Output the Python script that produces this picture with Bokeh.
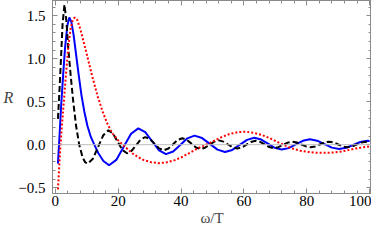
from bokeh.plotting import figure
from bokeh.models import (Range1d, LinearAxis, Span, SingleIntervalTicker,
                          CustomJSTickFormatter)
from bokeh.embed import file_html
from bokeh.resources import INLINE

# ---- data ----
omega_black = [0.83, 1.3, 1.8, 2.3, 2.9, 3.5, 4.1, 4.9, 5.7, 6.6, 7.6, 8.7, 9.5, 10.3, 11.95, 13.6,
               15.25, 16.9, 18.38, 19.85, 21.33, 22.8, 24.25, 25.7, 27.15, 28.6, 30.08, 31.55, 33.03,
               34.5, 35.98, 37.45, 38.93, 40.4, 41.85, 43.3, 44.75, 46.2, 47.65, 49.1, 50.55, 52.0,
               53.48, 54.95, 56.43, 57.9, 59.35, 60.8, 62.25, 63.7, 65.15, 66.6, 68.05, 69.5, 70.98,
               72.45, 73.93, 75.4, 76.85, 78.3, 79.75, 81.2, 82.68, 84.15, 85.63, 87.1, 88.55, 90.0,
               91.45, 92.9, 94.38, 95.85, 97.33, 98.8, 100.0]
R_black = [0.30, 0.62, 1.0, 1.4, 1.63, 1.45, 1.13, 0.8, 0.5, 0.22, 0.0, -0.15, -0.205, -0.22, -0.163,
           -0.027, 0.11, 0.167, 0.128, 0.034, -0.061, -0.10, -0.073, -0.006, 0.061, 0.088, 0.066,
           0.012, -0.043, -0.065, -0.045, 0.005, 0.055, 0.075, 0.057, 0.0125, -0.032, -0.05, -0.035,
           0.0, 0.035, 0.05, 0.036, 0.0025, -0.031, -0.045, -0.032, 0.0, 0.032, 0.045, 0.033, 0.0025,
           -0.028, -0.04, -0.029, -0.0025, 0.024, 0.035, 0.0255, 0.0025, -0.0205, -0.03, -0.0205,
           0.0025, 0.0255, 0.035, 0.0255, 0.0025, -0.0205, -0.03, -0.021, 0.0015, 0.024, 0.033, 0.03]

omega_blue = [0.83, 1.3, 1.86, 2.5, 3.1, 3.8, 4.45, 5.1, 5.8, 6.6, 7.4, 8.3, 9.2, 10.2, 11.3, 12.4,
              13.7, 15.3, 17.1, 19.4, 21.75, 24.1, 26.4, 28.6, 30.8, 33.0, 35.2, 37.5, 39.75, 42.0,
              44.3, 46.7, 49.15, 51.6, 54.0, 56.3, 58.65, 61.0, 63.3, 65.5, 67.65, 69.8, 72.0, 74.25,
              76.5, 78.75, 81.0, 83.3, 85.65, 88.0, 90.3, 92.55, 94.8, 97.05, 99.3, 100.0]
R_blue = [-0.22, 0.08, 0.46, 0.82, 1.13, 1.38, 1.48, 1.43, 1.28, 1.05, 0.82, 0.58, 0.39, 0.22, 0.09,
          0.0, -0.1, -0.19, -0.24, -0.177, -0.025, 0.127, 0.19, 0.146, 0.04, -0.066, -0.11, -0.079,
          -0.003, 0.074, 0.105, 0.077, 0.01, -0.057, -0.085, -0.061, -0.003, 0.056, 0.08, 0.06,
          0.012, -0.037, -0.057, -0.04, 0.003, 0.045, 0.063, 0.047, 0.007, -0.034, -0.05, -0.036,
          -0.003, 0.031, 0.045, 0.044]

omega_red = [0.83, 1.4, 2.0, 2.6, 3.3, 4.1, 4.9, 5.6, 6.2, 7.0, 8.0, 9.2, 10.5, 12.0, 13.5, 15.0,
             16.5, 18.0, 20.0, 22.0, 24.5, 27.5, 30.5, 33.0, 35.5, 38.0, 40.5, 43.0, 45.5, 48.0,
             50.5, 53.0, 55.5, 58.0, 60.5, 63.0, 65.5, 68.0, 70.5, 72.5, 75.5, 78.0, 80.5, 83.0,
             85.5, 88.0, 90.5, 93.0, 95.5, 98.0, 100.0]
R_red = [-0.52, -0.15, 0.18, 0.45, 0.78, 1.13, 1.36, 1.46, 1.48, 1.45, 1.34, 1.17, 0.98, 0.76, 0.56,
         0.39, 0.25, 0.14, 0.05, -0.02, -0.1, -0.17, -0.205, -0.215, -0.205, -0.18, -0.14, -0.09,
         -0.04, 0.0, 0.045, 0.09, 0.125, 0.145, 0.152, 0.14, 0.115, 0.08, 0.035, 0.0, -0.045, -0.07,
         -0.085, -0.093, -0.095, -0.092, -0.082, -0.065, -0.045, -0.03, -0.02]

y_tick_values = [-0.5, 0.0, 0.5, 1.0, 1.5]
y_tick_labels = ["\u22120.5", "0.0", "0.5", "1.0", "1.5"]
x_label = "\u03c9/T"
y_label = "R"

FONT = "Liberation Serif"
FRAME = "#8a8a8a"

p = figure(width=371, height=228, output_backend="svg", toolbar_location=None,
           x_range=Range1d(-0.9, 100.6), y_range=Range1d(-0.568, 1.678),
           x_axis_location=None, y_axis_location=None,
           min_border_left=48, min_border_right=0, min_border_top=0, min_border_bottom=0)
p.grid.visible = False
p.outline_line_color = FRAME
p.background_fill_color = "white"
p.border_fill_color = "white"


def style(ax, show_labels):
    ax.axis_line_color = FRAME
    ax.major_tick_line_color = FRAME
    ax.minor_tick_line_color = FRAME
    ax.major_tick_in = 5
    ax.major_tick_out = 0
    ax.minor_tick_in = 3
    ax.minor_tick_out = 0
    ax.major_label_text_font = FONT
    ax.major_label_text_color = "black"
    if show_labels:
        ax.major_label_text_font_size = "15px"
    else:
        ax.formatter = CustomJSTickFormatter(code="return ''")
        ax.major_label_text_font_size = "0px"
        ax.major_label_standoff = 0


xb = LinearAxis(ticker=SingleIntervalTicker(interval=20, num_minor_ticks=5), axis_label=x_label)
style(xb, True)
xb.major_label_standoff = 2
xb.axis_label_text_font = FONT
xb.axis_label_text_font_style = "normal"
xb.axis_label_text_font_size = "15px"
xb.axis_label_standoff = 1
p.add_layout(xb, "below")

yl = LinearAxis(ticker=SingleIntervalTicker(interval=0.5, num_minor_ticks=5), axis_label=y_label)
style(yl, True)
yl.major_label_standoff = 7
yl.major_label_overrides = {v: t for v, t in zip(y_tick_values, y_tick_labels)}
yl.axis_label_text_font = FONT
yl.axis_label_text_font_style = "italic"
yl.axis_label_text_font_size = "16px"
yl.axis_label_standoff = 2
try:
    yl.axis_label_orientation = "horizontal"
except Exception:
    pass
p.add_layout(yl, "left")

xt = LinearAxis(ticker=SingleIntervalTicker(interval=20, num_minor_ticks=5))
style(xt, False)
p.add_layout(xt, "above")

yr = LinearAxis(ticker=SingleIntervalTicker(interval=0.5, num_minor_ticks=5))
style(yr, False)
p.add_layout(yr, "right")

p.add_layout(Span(location=0, dimension="width", line_color="#bdbdbd", line_width=1))

p.line(omega_blue, R_blue, line_color="#0000ff", line_width=2)
p.line(omega_black, R_black, line_color="black", line_width=2, line_dash="6 3")
p.line(omega_red, R_red, line_color="#ff0000", line_width=2, line_dash="2 2")

open("out.html", "w").write(file_html(p, INLINE))
